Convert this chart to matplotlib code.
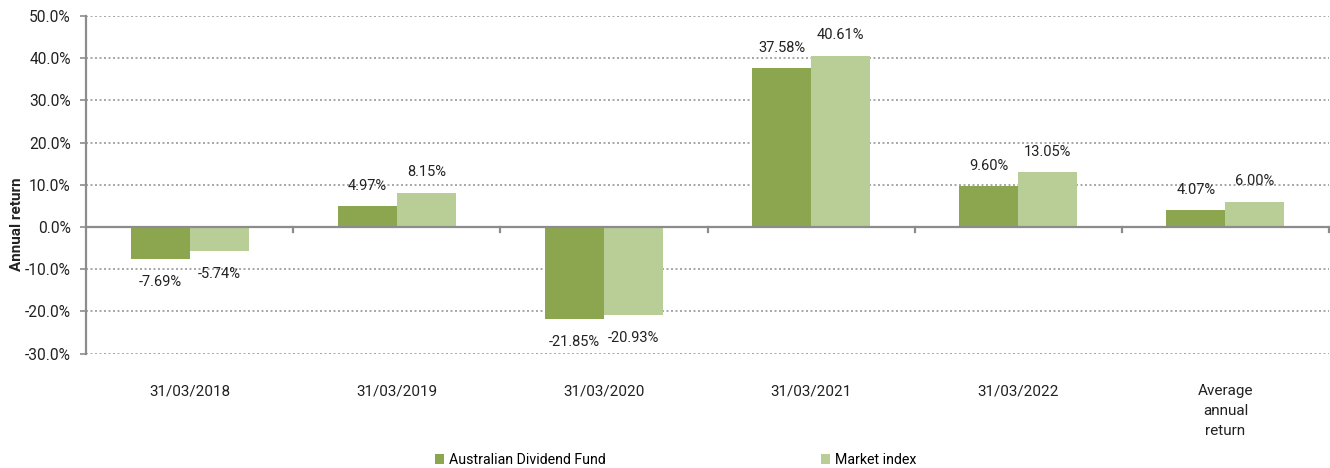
import matplotlib
matplotlib.use("Agg")
import matplotlib.pyplot as plt
import numpy as np
from matplotlib.ticker import FuncFormatter, FixedLocator

plt.rcParams['font.family'] = ['Roboto', 'DejaVu Sans']

categories = ["31/03/2018", "31/03/2019", "31/03/2020", "31/03/2021", "31/03/2022",
              "Average\nannual\nreturn"]
fund = [-7.69, 4.97, -21.85, 37.58, 9.60, 4.07]
market = [-5.74, 8.15, -20.93, 40.61, 13.05, 6.00]
series_names = ["Australian Dividend Fund", "Market index"]
yticks = [-30, -20, -10, 0, 10, 20, 30, 40, 50]

c_dark = "#8BA64F"
c_light = "#B9CE96"
gray = "#8C8C8C"

W, H = 1330, 468
fig = plt.figure(figsize=(W / 100, H / 100), dpi=100)
ax = fig.add_axes([86 / W, 1 - 353.5 / H, (1329 - 86) / W, (353.5 - 16) / H])

x = np.arange(len(categories))
bw = 0.285
b1 = ax.bar(x - bw / 2, fund, bw, color=c_dark, label=series_names[0], zorder=3)
b2 = ax.bar(x + bw / 2, market, bw, color=c_light, label=series_names[1], zorder=3)

ax.set_xlim(-0.5, len(categories) - 0.5)
ax.set_ylim(-30, 50)

for bars, vals in ((b1, fund), (b2, market)):
    for rect, v in zip(bars, vals):
        off = 14.5 if v >= 0 else -16.5
        ax.annotate(f"{v:.2f}%", (rect.get_x() + rect.get_width() / 2, v),
                    xytext=(0, off), textcoords="offset points",
                    ha="center", va="center", fontsize=10.5, color="#222222")

# grid
ax.yaxis.set_major_locator(FixedLocator(yticks))
ax.yaxis.set_major_formatter(FuncFormatter(lambda v, p: f"{v:.1f}%"))
for t in yticks:
    if t != 0:
        ax.axhline(t, color="#999999", lw=1.2, ls=(0, (1.2, 1.5)), zorder=1)
ax.axhline(0, color=gray, lw=1.6, zorder=4)

for s in ("top", "right", "bottom"):
    ax.spines[s].set_visible(False)
ax.spines["left"].set_color(gray)
ax.spines["left"].set_linewidth(1.6)

ax.tick_params(axis="y", length=4, width=1.2, color=gray, labelsize=11.2, pad=7,
               labelcolor="#222222")
ax.set_xticks(x)
ax.set_xticklabels(categories)
ax.tick_params(axis="x", length=0, labelsize=11, pad=22, labelcolor="#222222")
for lbl in ax.get_xticklabels():
    lbl.set_linespacing(1.55)

# category boundary ticks on the zero line
for b in np.arange(0.5, len(categories), 1.0):
    ax.plot([b, b], [0, -1.2], color=gray, lw=1.6, zorder=4, clip_on=False)

ax.set_ylabel("Annual return", fontsize=11, fontweight="bold", color="#222222")
ax.yaxis.set_label_coords(-0.050, 0.383)

leg = fig.legend(handles=[b1, b2], labels=series_names, loc="center left",
                 bbox_to_anchor=(435 / W, 1 - 460 / H), ncol=2, frameon=False,
                 fontsize=10.2, handlelength=0.65, handleheight=0.65,
                 handletextpad=0.35, columnspacing=15.2, borderpad=0,
                 borderaxespad=0)

fig.savefig("out.png", dpi=100)
